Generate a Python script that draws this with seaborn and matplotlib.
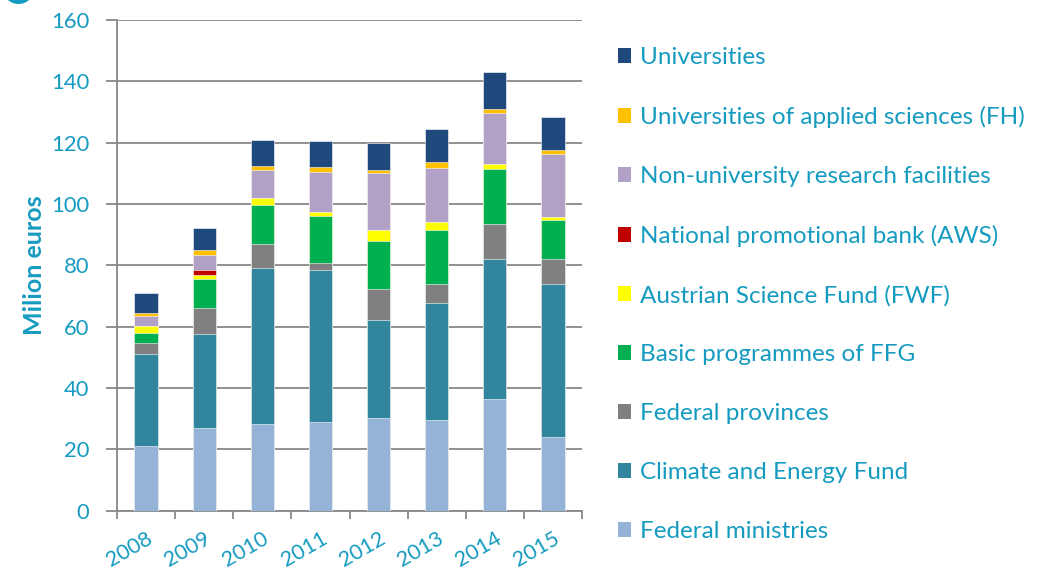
import numpy as np
import pandas as pd
import matplotlib
matplotlib.use("Agg")
import matplotlib.pyplot as plt
import seaborn as sns
from matplotlib.patches import Patch, Circle

# ---------------- data ----------------
years = ["2008", "2009", "2010", "2011", "2012", "2013", "2014", "2015"]
federal_ministries = [21.1, 27.0, 28.2, 29.0, 30.1, 29.5, 36.3, 24.1]
climate_energy_fund = [30.0, 30.7, 51.0, 49.3, 31.9, 38.3, 45.6, 49.9]
federal_provinces = [3.4, 8.3, 7.6, 2.3, 10.4, 6.2, 11.4, 7.9]
basic_programmes_ffg = [3.3, 9.5, 12.8, 15.6, 15.6, 17.4, 18.1, 12.9]
austrian_science_fund = [2.4, 1.3, 2.2, 1.2, 3.5, 2.7, 1.6, 0.8]
national_promotional_bank = [0.0, 1.6, 0.0, 0.0, 0.0, 0.0, 0.0, 0.0]
non_university_research = [3.3, 4.8, 9.4, 13.1, 18.6, 17.7, 16.7, 20.6]
universities_applied = [0.9, 1.8, 1.2, 1.6, 1.0, 2.0, 1.1, 1.4]
universities = [6.6, 7.0, 8.5, 8.5, 8.8, 10.5, 12.1, 10.6]

series_names = [
    "Federal ministries",
    "Climate and Energy Fund",
    "Federal provinces",
    "Basic programmes of FFG",
    "Austrian Science Fund (FWF)",
    "National promotional bank (AWS)",
    "Non-university research facilities",
    "Universities of applied sciences (FH)",
    "Universities",
]
series_values = [
    federal_ministries, climate_energy_fund, federal_provinces,
    basic_programmes_ffg, austrian_science_fund, national_promotional_bank,
    non_university_research, universities_applied, universities,
]
series_colors = [
    "#95B3D7", "#31859C", "#808080", "#00B050", "#FFFF00",
    "#C00000", "#B2A1C7", "#FFC000", "#1F497D",
]

TXT = "#169BC0"
GRID = "#888888"

df = pd.DataFrame({name: vals for name, vals in zip(series_names, series_values)})
df["Year"] = years
cum = df[series_names].cumsum(axis=1)
cum["Year"] = years

sns.set_theme(style="white")
plt.rcParams["font.family"] = ["Lato", "DejaVu Sans"]

fig = plt.figure(figsize=(10.37, 5.71), dpi=100)
ax = fig.add_axes([117 / 1037, 1 - 510.6 / 571, (582 - 117) / 1037, (510.6 - 19.9) / 571])

# stacked bars: draw cumulative totals from top layer down
for name, color in reversed(list(zip(series_names, series_colors))):
    sns.barplot(data=cum, x="Year", y=name, color=color, saturation=1,
                width=0.4, errorbar=None, ax=ax,
                edgecolor="white", linewidth=0.4, zorder=3)

ax.set_xlim(-0.5, len(years) - 0.5)
ax.set_ylim(0, 160)
ax.set_yticks(np.arange(0, 161, 20))
ax.set_xlabel("")
ax.set_ylabel("")

ax.yaxis.grid(True, color=GRID, linewidth=1.3, zorder=0)
ax.set_axisbelow(True)
for s in ["top", "right"]:
    ax.spines[s].set_visible(False)
for s in ["left", "bottom"]:
    ax.spines[s].set_color(GRID)
    ax.spines[s].set_linewidth(1.3)

ax.tick_params(axis="y", which="major", direction="out", length=8, width=1.3,
               color=GRID, labelcolor=TXT, labelsize=15.8, pad=12, left=True)
ax.set_xticks(np.arange(-0.5, len(years), 1.0), minor=True)
ax.tick_params(axis="x", which="minor", direction="out", length=6, width=1.3,
               color=GRID, bottom=True)
ax.tick_params(axis="x", which="major", length=0, labelcolor=TXT,
               labelsize=15.5, pad=13)
for lab in ax.get_xticklabels():
    lab.set_rotation(30)
    lab.set_ha("right")
    lab.set_va("top")
    lab.set_rotation_mode("anchor")

fig.text(34 / 1037, 1 - 265 / 571, "Milion euros", rotation=90, ha="center",
         va="center", color=TXT, fontsize=18, fontweight="bold")

# legend
handles = [Patch(facecolor=c, edgecolor="none") for c in series_colors][::-1]
labels = series_names[::-1]
fig.legend(handles, labels, loc="upper left", bbox_to_anchor=(618 / 1037, 1 - 47 / 571),
           frameon=False, fontsize=17.5, labelcolor=TXT, handlelength=0.55,
           handleheight=0.55, handletextpad=0.35, labelspacing=1.56, borderpad=0,
           borderaxespad=0)

# decorative circle at top-left corner
fig.patches.append(Circle((0.185, 5.83), 0.16, transform=fig.dpi_scale_trans,
                          facecolor=TXT, edgecolor="none"))

fig.savefig("out.png", dpi=100)
